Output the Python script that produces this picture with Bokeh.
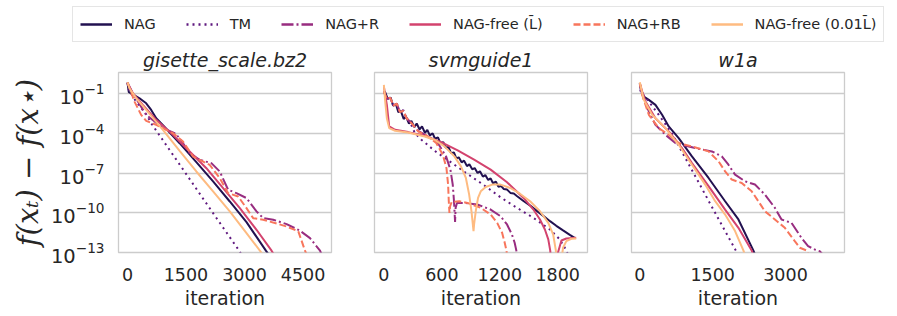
import numpy as np
from bokeh.plotting import figure
from bokeh.models import (ColumnDataSource, FixedTicker, Range1d, Legend, LegendItem)
from bokeh.layouts import column, row
from bokeh.embed import file_html
from bokeh.resources import INLINE

# ---------------- data (iteration, log10 of f(x_t)-f(x*)) ----------------
methods = ["NAG", "TM", "NAG+R", "NAG-free (L̄)", "NAG+RB", "NAG-free (0.01L̄)"]
colors = ["#221150", "#5f187f", "#982d80", "#d3436e", "#f8765c", "#febb81"]
dashes = ["solid", "2 4", "12 3 2 3", "solid", "7 3", "solid"]

datasets = ["gisette_scale.bz2", "svmguide1", "w1a"]

# gisette_scale.bz2
gis_nag_x = [0, 34, 137, 309, 480, 608, 737, 994, 1337, 1765, 2194, 2622, 3051, 3548, 3651]
gis_nag_y = [-0.15, -0.87, -1.03, -1.33, -1.71, -2.21, -2.84, -3.64, -4.73, -6.16, -7.62, -9.14, -10.70, -12.86, -13.29]
gis_tm_x = [0, 34, 223, 480, 608, 1337, 2194, 2862, 2922]
gis_tm_y = [-0.15, -0.70, -1.58, -2.54, -3.22, -6.34, -10.02, -12.86, -13.17]
gis_nagr_x = [0, 9, 137, 480, 908, 1208, 1337, 1594, 1851, 2151, 2365, 2580, 2794, 3051, 3308, 3480, 3737, 4079, 4422, 4679, 4936, 4979]
gis_nagr_y = [-0.15, -0.19, -0.95, -2.59, -3.59, -3.97, -4.35, -5.48, -5.99, -6.24, -6.87, -8.25, -8.51, -8.88, -9.89, -10.40, -10.52, -10.85, -11.35, -11.91, -12.86, -13.17]
gis_free_x = [0, 9, 137, 394, 737, 1166, 1594, 2023, 2451, 2880, 3308, 3694, 3780]
gis_free_y = [-0.15, -0.27, -0.95, -1.83, -2.96, -4.10, -5.36, -6.62, -8.13, -9.64, -11.28, -12.86, -13.29]
gis_nagrb_x = [0, 9, 180, 351, 480, 737, 1166, 1423, 1680, 2108, 2365, 2580, 2837, 3051, 3222, 3480, 4079, 4379, 4551, 4594]
gis_nagrb_y = [-0.15, -0.19, -1.58, -2.59, -3.04, -3.34, -3.97, -4.60, -5.74, -6.37, -7.37, -8.51, -8.76, -9.64, -10.40, -10.52, -11.03, -11.40, -12.86, -13.17]
gis_free01_x = [0, 51, 223, 480, 908, 1337, 1765, 2194, 2622, 3051, 3394, 3480]
gis_free01_y = [-0.12, -0.57, -1.33, -2.21, -3.72, -5.31, -6.87, -8.38, -9.89, -11.53, -12.86, -13.2]

# svmguide1
svm_nag_x = [0, 15, 40, 70, 95, 125, 150, 175, 205, 230, 260, 285, 315, 340, 370, 395, 425, 450, 475, 505,
             530, 560, 585, 615, 640, 670, 695, 725, 750, 775, 805, 830, 860, 885, 915, 940, 970, 995, 1025, 1050,
             1080, 1105, 1130, 1160, 1185, 1215, 1240, 1275, 1310, 1345, 1380, 1445, 1515, 1580, 1650, 1720, 1785, 1855, 1925, 1975]
svm_nag_y = [-0.80, -0.90, -1.38, -1.28, -1.88, -1.78, -2.38, -2.28, -2.89, -2.73, -3.24, -3.04, -3.51, -3.24, -3.69, -3.46, -3.94, -3.72, -4.14, -3.99,
             -4.39, -4.29, -4.72, -4.65, -5.07, -5.02, -5.48, -5.43, -5.88, -5.80, -6.18, -6.05, -6.46, -6.33, -6.71, -6.61, -6.98, -6.86, -7.26, -7.14,
             -7.51, -7.39, -7.76, -7.64, -8.02, -7.97, -8.19, -8.24, -8.49, -8.54, -8.74, -9.10, -9.45, -9.83, -10.23, -10.63, -10.98, -11.33, -11.66, -11.89]
svm_tm_x = [0, 31, 65, 99, 133, 167, 201, 235, 269, 321, 389, 525, 696, 866, 1037, 1207, 1378, 1548, 1719, 1821, 1889, 1910]
svm_tm_y = [-0.82, -1.38, -1.28, -1.88, -1.73, -2.38, -2.23, -2.89, -3.09, -3.97, -4.47, -5.30, -6.18, -7.06, -7.91, -8.82, -9.62, -10.38, -11.26, -12.01, -12.84, -13.27]
svm_nagr_x = [0, 31, 65, 99, 133, 167, 201, 235, 286, 355, 457, 559, 644, 689, 713, 726, 737, 743, 757, 832, 968, 1105, 1207, 1275, 1326, 1354, 1371, 1378]
svm_nagr_y = [-0.82, -1.38, -1.28, -1.88, -1.73, -2.38, -2.28, -2.84, -3.21, -3.79, -4.22, -4.72, -5.73, -6.73, -7.86, -9.12, -10.68, -9.62, -9.25, -9.25, -9.37, -9.75, -10.25, -10.88, -11.64, -12.26, -12.84, -13.27]
svm_free_x = [0, 31, 55, 116, 252, 423, 593, 764, 934, 1105, 1275, 1446, 1548, 1616, 1667, 1702, 1722, 1729, 1753, 1787, 1838, 1889, 1991]
svm_free_y = [-0.45, -1.83, -3.46, -3.72, -3.89, -4.17, -4.65, -5.27, -5.98, -6.73, -7.69, -8.87, -9.75, -10.50, -11.26, -12.01, -12.84, -13.40, -15.5, -13.40, -12.09, -11.94, -11.89]
svm_nagrb_x = [0, 31, 65, 99, 133, 167, 201, 235, 286, 355, 457, 542, 610, 648, 665, 672, 679, 686, 702, 781, 866, 1003, 1105, 1173, 1224, 1251, 1269, 1275]
svm_nagrb_y = [-0.82, -1.38, -1.28, -1.88, -1.73, -2.38, -2.28, -2.84, -3.21, -3.84, -4.22, -4.72, -5.60, -6.61, -7.86, -9.12, -10.00, -9.50, -9.17, -9.12, -9.25, -9.62, -10.13, -10.76, -11.51, -12.26, -12.84, -13.27]
svm_free01_x = [0, 14, 31, 55, 116, 252, 423, 525, 627, 730, 798, 849, 883, 907, 921, 928, 934, 951, 975, 1003,
                1054, 1122, 1207, 1309, 1412, 1514, 1616, 1702, 1753, 1780, 1811, 1855, 1889, 1940, 1991]
svm_free01_y = [-0.32, -1.58, -2.84, -3.59, -3.79, -3.92, -4.22, -4.47, -4.97, -5.73, -6.48, -7.36, -8.62, -9.88, -10.88, -11.38, -10.88, -9.88, -8.87, -8.37,
                -8.04, -7.86, -7.86, -8.12, -8.57, -9.12, -9.88, -10.76, -11.64, -12.84, -15.0, -12.64, -12.14, -11.96, -11.94]

# w1a
w1a_nag_x = [0, 14, 82, 185, 321, 458, 595, 800, 1073, 1415, 1756, 2030, 2337, 2371]
w1a_nag_y = [-0.20, -0.57, -1.20, -1.45, -1.83, -2.58, -3.46, -4.34, -5.73, -7.36, -9.12, -10.50, -12.84, -13.14]
w1a_tm_x = [0, 14, 185, 390, 663, 1107, 1551, 1975, 2016]
w1a_tm_y = [-0.20, -0.82, -1.58, -2.58, -4.00, -7.00, -10.00, -12.84, -13.14]
w1a_nagr_x = [0, 48, 185, 321, 526, 731, 868, 1141, 1483, 1688, 1825, 1961, 2166, 2371, 2576, 2781, 2918, 3123, 3328, 3465, 3601, 3704, 3780]
w1a_nagr_y = [-0.20, -1.08, -2.33, -3.34, -4.09, -4.72, -4.85, -5.10, -5.35, -5.73, -6.36, -7.11, -7.61, -7.86, -8.62, -9.62, -10.50, -10.76, -11.89, -12.52, -12.77, -12.90, -13.2]
w1a_free_x = [0, 48, 116, 321, 595, 868, 1073, 1415, 1756, 2030, 2303, 2344]
w1a_free_y = [-0.20, -0.82, -1.58, -2.84, -3.84, -5.10, -6.23, -7.98, -9.75, -11.13, -12.84, -13.27]
w1a_nagrb_x = [0, 48, 185, 390, 595, 800, 1073, 1415, 1620, 1756, 1893, 2098, 2303, 2440, 2576, 2781, 2986, 3191, 3294, 3431, 3465]
w1a_nagrb_y = [-0.20, -1.08, -2.58, -3.59, -4.09, -4.72, -4.97, -5.35, -6.10, -6.86, -7.48, -7.74, -8.37, -9.12, -9.88, -10.50, -11.13, -12.14, -12.64, -12.84, -13.1]
w1a_free01_x = [0, 82, 253, 526, 800, 1073, 1346, 1551, 1756, 1961, 2132, 2166]
w1a_free01_y = [-0.12, -1.45, -2.58, -3.59, -4.85, -6.36, -7.86, -9.12, -10.13, -11.38, -12.84, -13.19]

x_ticks = [[0, 1500, 3000, 4500], [0, 600, 1200, 1800], [0, 1500, 3000]]
x_ranges = [(-230, 5230), (-97, 2108), (-172, 4215)]
y_ticks = [1e-1, 1e-4, 1e-7, 1e-10, 1e-13]

series = [
    [(gis_nag_x, gis_nag_y), (gis_tm_x, gis_tm_y), (gis_nagr_x, gis_nagr_y),
     (gis_free_x, gis_free_y), (gis_nagrb_x, gis_nagrb_y), (gis_free01_x, gis_free01_y)],
    [(svm_nag_x, svm_nag_y), (svm_tm_x, svm_tm_y), (svm_nagr_x, svm_nagr_y),
     (svm_free_x, svm_free_y), (svm_nagrb_x, svm_nagrb_y), (svm_free01_x, svm_free01_y)],
    [(w1a_nag_x, w1a_nag_y), (w1a_tm_x, w1a_tm_y), (w1a_nagr_x, w1a_nagr_y),
     (w1a_free_x, w1a_free_y), (w1a_nagrb_x, w1a_nagrb_y), (w1a_free01_x, w1a_free01_y)],
]

TXT = "#262626"
GRID = "#cccccc"
FONT = "DejaVu Sans"

figs = []
borders = [(118, 21), (22, 21), (23, 20)]
for i, name in enumerate(datasets):
    bl, br = borders[i]
    p = figure(frame_width=213, frame_height=180, output_backend="svg", toolbar_location=None,
               y_axis_type="log", x_range=Range1d(*x_ranges[i]), y_range=Range1d(1e-13, 10 ** 0.62),
               min_border_left=bl, min_border_right=br, min_border_top=28, min_border_bottom=60,
               title=name)
    p.title.text_font = FONT
    p.title.text_font_style = "italic"
    p.title.text_font_size = "19px"
    p.title.text_color = TXT
    p.title.align = "center"
    p.title.standoff = 3
    p.outline_line_color = GRID
    p.outline_line_width = 1.3
    p.xgrid.visible = False
    p.ygrid.grid_line_color = GRID
    p.ygrid.grid_line_width = 1.3
    p.ygrid.ticker = FixedTicker(ticks=y_ticks)
    p.yaxis.ticker = FixedTicker(ticks=y_ticks)
    p.xaxis.ticker = FixedTicker(ticks=x_ticks[i])
    for ax in (p.xaxis[0], p.yaxis[0]):
        ax.axis_line_color = None
        ax.major_tick_line_color = None
        ax.minor_tick_line_color = None
        ax.major_tick_out = 0
        ax.major_tick_in = 0
        ax.minor_tick_out = 0
        ax.major_label_text_font = FONT
        ax.major_label_text_font_size = "17.5px"
        ax.major_label_text_color = TXT
    p.xaxis.axis_label = "iteration"
    p.xaxis.axis_label_text_font = FONT
    p.xaxis.axis_label_text_font_style = "normal"
    p.xaxis.axis_label_text_font_size = "19px"
    p.xaxis.axis_label_text_color = TXT
    p.xaxis.major_label_standoff = 15
    p.xaxis.axis_label_standoff = 3
    if i == 0:
        p.yaxis.major_label_text_font_size = "19.5px"
        p.yaxis.major_label_standoff = 14
        p.yaxis.axis_label = "f(xₜ) − f(x⋆)"
        p.yaxis.axis_label_text_font = "DejaVu Serif"
        p.yaxis.axis_label_text_font_style = "italic"
        p.yaxis.axis_label_text_font_size = "29px"
        p.yaxis.axis_label_text_color = TXT
        p.yaxis.axis_label_standoff = 3
    else:
        p.yaxis.visible = False
    for k, (xs, ys) in enumerate(series[i]):
        src = ColumnDataSource(dict(x=xs, y=10.0 ** np.array(ys)))
        p.line("x", "y", source=src, line_color=colors[k], line_width=2,
               line_dash=dashes[k])
    figs.append(p)

# legend figure (legend-only glyphs, drawn outside the visible range)
lg = figure(width=897, height=44, output_backend="svg", toolbar_location=None,
            x_range=Range1d(0, 1), y_range=Range1d(0, 1), min_border=0)
lg.axis.visible = False
lg.grid.visible = False
lg.outline_line_color = None
items = []
for k, m in enumerate(methods):
    r = lg.line(x=[5, 6], y=[5, 6], line_color=colors[k], line_width=2.5, line_dash=dashes[k])
    items.append(LegendItem(label=m, renderers=[r]))
legend = Legend(items=items, orientation="horizontal", location=(72, 2))
legend.label_text_font = FONT
legend.label_text_font_size = "14.5px"
legend.label_text_color = TXT
legend.border_line_color = GRID
legend.border_line_width = 1
legend.glyph_width = 32
legend.label_standoff = 12
legend.spacing = 30
legend.padding = 7
legend.margin = 0
lg.add_layout(legend, "center")

layout = column(lg, row(*figs))
open("out.html", "w").write(file_html(layout, INLINE))
